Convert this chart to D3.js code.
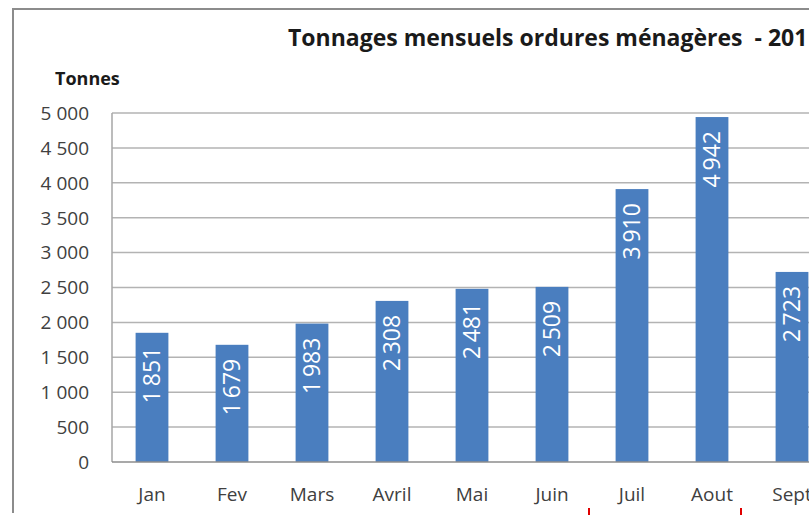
<!DOCTYPE html>
<html lang="fr">
<head>
<meta charset="UTF-8" />
<title>Tonnages mensuels</title>
<style>
  body { margin: 0; background: #fff; }
  svg { display: block; font-family: "Open Sans", sans-serif; }
</style>
</head>
<body>
<svg id="chart" width="809" height="515"></svg>

<script src="https://d3js.org/d3.v7.min.js"></script>
<script>
const months = ['Jan', 'Fev', 'Mars', 'Avril', 'Mai', 'Juin', 'Juil', 'Aout', 'Sept'];
const tonnes = [1851, 1679, 1983, 2308, 2481, 2509, 3910, 4942, 2723];
const yTicks = [0, 500, 1000, 1500, 2000, 2500, 3000, 3500, 4000, 4500, 5000];

const svg = d3.select('#chart');
const fmt = v => d3.format(',')(v).replace(/,/g, '\u2009');
const fmtAxis = v => d3.format(',')(v).replace(/,/g, ' ');

// cadre du graphique
svg.append('path')
  .attr('d', 'M13,513 V9 H809')
  .attr('fill', 'none')
  .attr('stroke', '#8c8c8c')
  .attr('stroke-width', 2);

// zone de tracé (dépasse à droite, comme la capture)
const plotLeft = 112, plotTop = 113, plotBottom = 462, plotWidth = 720;

const x = d3.scaleBand()
  .domain(months)
  .range([plotLeft, plotLeft + plotWidth])
  .paddingInner(0.59)
  .paddingOuter(0.295);

const y = d3.scaleLinear()
  .domain([0, 5000])
  .range([plotBottom, plotTop]);

// grille
svg.append('g')
  .selectAll('line')
  .data(yTicks.filter(d => d > 0))
  .join('line')
  .attr('x1', plotLeft).attr('x2', plotLeft + plotWidth)
  .attr('y1', d => y(d)).attr('y2', d => y(d))
  .attr('stroke', '#b3b3b3')
  .attr('stroke-width', 1.5);

// axe vertical
svg.append('line')
  .attr('x1', plotLeft).attr('x2', plotLeft)
  .attr('y1', plotTop).attr('y2', plotBottom)
  .attr('stroke', '#a6a6a6')
  .attr('stroke-width', 1.5);

// étiquettes Y
svg.append('g')
  .selectAll('text')
  .data(yTicks)
  .join('text')
  .attr('x', 89)
  .attr('y', d => y(d))
  .attr('dy', '0.36em')
  .attr('text-anchor', 'end')
  .attr('font-size', 19)
  .attr('fill', '#404040')
  .text(fmtAxis);

// barres
svg.append('g')
  .selectAll('rect')
  .data(tonnes)
  .join('rect')
  .attr('x', (d, i) => x(months[i]))
  .attr('y', d => y(d))
  .attr('width', x.bandwidth())
  .attr('height', d => plotBottom - y(d))
  .attr('fill', '#4a7ebf');

// axe horizontal
svg.append('line')
  .attr('x1', plotLeft).attr('x2', plotLeft + plotWidth)
  .attr('y1', plotBottom).attr('y2', plotBottom)
  .attr('stroke', '#8c8c8c')
  .attr('stroke-width', 1.5);

// valeurs dans les barres
svg.append('g')
  .selectAll('text')
  .data(tonnes)
  .join('text')
  .attr('transform', (d, i) => `translate(${x(months[i]) + x.bandwidth() / 2},${y(d) + 14}) rotate(-90)`)
  .attr('text-anchor', 'end')
  .attr('dy', '0.36em')
  .attr('font-size', 23)
  .attr('fill', '#fff')
  .text(fmt);

// étiquettes X
svg.append('g')
  .selectAll('text')
  .data(months)
  .join('text')
  .attr('x', d => x(d) + x.bandwidth() / 2)
  .attr('y', 501)
  .attr('text-anchor', 'middle')
  .attr('font-size', 19)
  .attr('fill', '#404040')
  .text(d => d);

// titres
svg.append('text')
  .attr('x', 288).attr('y', 46)
  .attr('font-size', 23)
  .attr('font-weight', 'bold')
  .attr('fill', '#1a1a1a')
  .attr('xml:space', 'preserve')
  .text('Tonnages mensuels ordures ménagères  - 201');

svg.append('text')
  .attr('x', 55).attr('y', 85)
  .attr('font-size', 18)
  .attr('font-weight', 'bold')
  .attr('fill', '#1a1a1a')
  .text('Tonnes');

// repères rouges en bas
svg.append('g')
  .selectAll('line')
  .data([589, 741])
  .join('line')
  .attr('x1', d => d).attr('x2', d => d)
  .attr('y1', 508).attr('y2', 515)
  .attr('stroke', '#e00000')
  .attr('stroke-width', 2);
</script>
</body>
</html>
